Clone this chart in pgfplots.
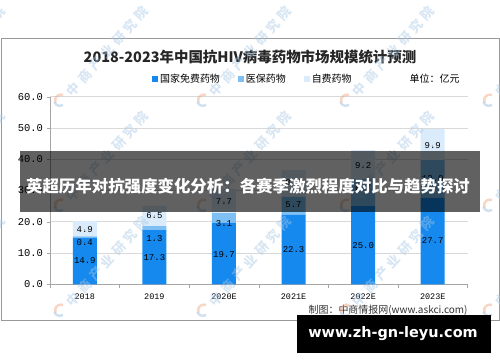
\documentclass[border=0pt]{standalone}
\usepackage{pgfplots}
\pgfplotsset{compat=1.18}
\usepackage{fontspec}
\setmainfont{Noto Sans CJK SC}
\newfontfamily\mono{Liberation Mono}
\newfontfamily\deja{DejaVu Sans}
\definecolor{cA}{HTML}{1589EE}
\definecolor{cB}{HTML}{7EC0F4}
\definecolor{cC}{HTML}{DAECFC}
\definecolor{wm}{HTML}{A9C9E6}
\definecolor{wo}{HTML}{F2A27E}
\newcommand{\wmark}[2]{%
  \begin{scope}[shift={(#1,#2)}]
    \draw[wo, opacity=0.45, line width=2.4bp] (3,5) arc (70:200:6);
    \draw[wm, opacity=0.55, line width=2.4bp] (-5.6,-2) arc (200:300:6);
    \node[anchor=west, rotate=48, text=wm, opacity=0.45, font=\bfseries\fontsize{13}{15}\selectfont, inner sep=0pt] at (9,6)
      {中\hspace{4bp}商\hspace{4bp}产\hspace{4bp}业\hspace{4bp}研\hspace{4bp}究\hspace{4bp}院};
  \end{scope}}
\begin{document}
\begin{tikzpicture}[x=1bp,y=1bp]
\path[fill=white] (0,0) rectangle (500,362);
\draw[color=black!40, line width=0.8bp] (1,42) rectangle (499,324);
\node[font=\bfseries\fontsize{14.5}{16}\selectfont, text=black!85] at (250,305.3) {2018-2023年中国抗HIV病毒药物市场规模统计预测};
\begin{axis}[at={(50bp,77.7bp)},anchor=south west,scale only axis,width=417.5bp,height=187.6bp,
  ybar stacked, bar width=24bp,
  xmin=-0.5,xmax=5.5,ymin=0,ymax=60,
  axis lines=left, axis line style={-,draw=black!35},
  xtick={0,...,5}, xticklabels={2018,2019,2020E,2021E,2022E,2023E},
  major x tick style={draw=none},
  minor xtick={-0.5,0.5,...,5.5},
  ytick={0,10,...,60}, yticklabels={0.0,10.0,20.0,30.0,40.0,50.0,60.0},
  tick align=outside, major tick length=3.5bp, minor tick length=4bp,
  tick style={draw=black!35},
  ymajorgrids, grid style={draw=black!15, line width=0.6bp},
  yticklabel style={font=\mono\fontsize{10.5}{12}\selectfont},
  xticklabel style={font=\mono\fontsize{8.5}{10}\selectfont, yshift=-3bp},
  legend columns=3,
  legend style={at={(0.486,1.094)}, anchor=center, draw=none, fill=none, font=\fontsize{10}{12}\selectfont,
    /tikz/every even column/.append style={column sep=16bp}},
]
\addplot[fill=cA, draw=none, legend image code/.code={\fill[cA] (0bp,-3bp) rectangle (6bp,3bp);}] coordinates {(0,14.9) (1,17.3) (2,19.7) (3,22.3) (4,25.0) (5,27.7)};
\addlegendentry{国家免费药物}
\addplot[fill=cB, draw=none, legend image code/.code={\fill[cB] (0bp,-3bp) rectangle (6bp,3bp);}] coordinates {(0,0.4) (1,1.3) (2,3.1) (3,5.7) (4,8.7) (5,12.0)};
\addlegendentry{医保药物}
\addplot[fill=cC, draw=none, legend image code/.code={\fill[cC] (0bp,-3bp) rectangle (6bp,3bp);}] coordinates {(0,4.9) (1,6.5) (2,7.7) (3,8.5) (4,9.2) (5,9.9)};
\addlegendentry{自费药物}
\end{axis}
\begin{axis}[at={(50bp,77.7bp)},anchor=south west,scale only axis,width=417.5bp,height=187.6bp,
  xmin=-0.5,xmax=5.5,ymin=0,ymax=60, hide axis]
\addplot[only marks, mark=*, mark size=0.01pt, mark options={draw=none,fill=none},
  nodes near coords, point meta=explicit symbolic,
  nodes near coords style={font=\mono\fontsize{9}{10}\selectfont, anchor=center, text=black}]
  table[meta=lab] {
x y lab
0 7.45 14.9
0 13.4 0.4
0 17.6 4.9
1 8.6 17.3
1 14.5 1.3
1 21.9 6.5
2 9.6 19.7
2 19.5 3.1
2 26.4 7.7
3 11.0 22.3
3 25.4 5.7
3 32.7 8.5
4 12.3 25.0
4 31.0 8.7
4 37.9 9.2
5 13.9 27.7
5 33.7 12.0
5 44.5 9.9
};
\end{axis}
\node[anchor=east, font=\fontsize{10}{12}\selectfont] at (463,283) {单位：亿元};
\node[anchor=east, font=\fontsize{10}{12}\selectfont, text=black!80] at (471,52) {制图：中商情报网(www.askci.com)};
\begin{scope}
\clip (0,0) rectangle (500,362);
\foreach \wx in {-83,60,203,346,489}{
  \foreach \wy in {262,157,52}{
    \wmark{\wx}{\wy}
  }
}
\end{scope}
\fill[black, opacity=0.62] (20,150.3) rectangle (480,211);
\node[text=white, font=\bfseries\fontsize{16.5}{19}\selectfont] at (248,175.3) {英超历年对抗强度变化分析：各赛季激烈程度对比与趋势探讨};
\fill[black] (297,9.3) rectangle (491,47);
\node[text=white, font=\deja\bfseries\fontsize{14.5}{16}\selectfont] at (393,28) {www.zh-gn-leyu.com};
\end{tikzpicture}
\end{document}
